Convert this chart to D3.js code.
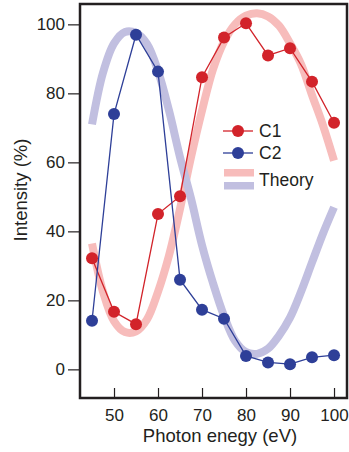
<!DOCTYPE html>
<html lang="en">
    <head>
        <meta charset="utf-8">
        <title>Intensity vs photon energy</title>
        <script type="text/javascript" src="https://cdn.jsdelivr.net/npm/d3@7/dist/d3.min.js"></script>
        <style>
            body { margin: 0; background: #fff; }
            text { font-family: "Liberation Sans", Arial, Helvetica, sans-serif; fill: #231f20; }
        </style>
    </head>
    <body>
    <svg width="349" height="452"></svg>
        <script type="text/javascript">
            // measured points
            var energies = [45, 50, 55, 60, 65, 70, 75, 80, 85, 90, 95, 100];
            var c1 = [32.2, 16.7, 13.1, 45.0, 50.2, 84.7, 96.2, 100.3, 91.0, 93.1, 83.4, 71.5];
            var c2 = [14.1, 74.0, 97.0, 86.3, 26.0, 17.3, 14.7, 3.9, 2.0, 1.5, 3.5, 4.1];

            // theory curves, every 2.5 eV
            var theoryEnergies = [45, 47.5, 50, 52.5, 55, 57.5, 60, 62.5, 65, 67.5, 70, 72.5,
                                  75, 77.5, 80, 82.5, 85, 87.5, 90, 92.5, 95, 97.5, 100];
            var theoryC1 = [36.5, 22.5, 14, 10.8, 11, 14.5, 22.5, 33, 46.5, 61.5, 75, 87,
                            95, 100, 102.5, 103.2, 102.3, 99.6, 94.5, 88.5, 79.5, 70.7, 60.5];
            var theoryC2 = [71, 86, 94.5, 97.8, 97.5, 94.3, 86.5, 75, 61.5, 49.5, 36, 25,
                            15.5, 8.3, 5, 4.5, 6, 9.8, 15, 22.5, 31, 39.4, 47];

            var xTicks = [50, 60, 70, 80, 90, 100];
            var yTicks = [0, 20, 40, 60, 80, 100];

            var red = "#d2232a", blue = "#2e3f98",
                redTheory = "#f7bcbb", blueTheory = "#c1bfe0";

            var svg = d3.select("svg"),
                pLeft = 80, pRight = 347, pTop = 4, pBottom = 398;

            var x = d3.scaleLinear().domain([42.27, 102.95]).range([pLeft, pRight]),
                y = d3.scaleLinear().domain([-8.3, 105.9]).range([pBottom, pTop]);

            var theory = theoryEnergies.map(function(e, i) {
                return {e: e, a: theoryC1[i], b: theoryC2[i]};
            });
            var meas = energies.map(function(e, i) {
                return {e: e, a: c1[i], b: c2[i]};
            });

            var band = function(key) {
                return d3.line().curve(d3.curveCatmullRom)
                    .x(function(d) { return x(d.e); })
                    .y(function(d) { return y(d[key]); });
            };
            var seg = function(key) {
                return d3.line()
                    .x(function(d) { return x(d.e); })
                    .y(function(d) { return y(d[key]); });
            };

            svg.append("path").datum(theory)
                .attr("d", band("a"))
                .attr("fill", "none").attr("stroke", redTheory).attr("stroke-width", 8);
            svg.append("path").datum(theory)
                .attr("d", band("b"))
                .attr("fill", "none").attr("stroke", blueTheory).attr("stroke-width", 8);

            [["a", red], ["b", blue]].forEach(function(s) {
                svg.append("path").datum(meas)
                    .attr("d", seg(s[0]))
                    .attr("fill", "none").attr("stroke", s[1]).attr("stroke-width", 1.3);
                svg.selectAll(".dot-" + s[0])
                    .data(meas)
                    .enter().append("circle")
                    .attr("class", "dot-" + s[0])
                    .attr("cx", function(d) { return x(d.e); })
                    .attr("cy", function(d) { return y(d[s[0]]); })
                    .attr("r", 6)
                    .attr("fill", s[1]);
            });

            // axes
            var gx = svg.append("g")
                .attr("transform", "translate(0," + pBottom + ")")
                .call(d3.axisBottom(x).tickValues(xTicks).tickSize(-10).tickPadding(11));
            var gy = svg.append("g")
                .attr("transform", "translate(" + pLeft + ",0)")
                .call(d3.axisLeft(y).tickValues(yTicks).tickSize(12).tickPadding(3));
            [gx, gy].forEach(function(g) {
                g.select(".domain").remove();
                g.selectAll(".tick line").attr("stroke", "#231f20").attr("stroke-width", 1.2);
                g.selectAll(".tick text").attr("font-size", "17px")
                    .attr("font-family", "Liberation Sans, Arial, sans-serif").attr("fill", "#231f20");
            });

            svg.append("rect")
                .attr("x", pLeft).attr("y", pTop)
                .attr("width", pRight - pLeft).attr("height", pBottom - pTop)
                .attr("fill", "none").attr("stroke", "#231f20").attr("stroke-width", 2.5);

            svg.append("text")
                .attr("x", 220).attr("y", 442)
                .attr("text-anchor", "middle")
                .attr("font-size", "18.5px")
                .text("Photon enegy (eV)");

            svg.append("text")
                .attr("transform", "translate(27," + 190 + ") rotate(-90)")
                .attr("text-anchor", "middle")
                .attr("font-size", "18.5px")
                .text("Intensity (%)");

            // legend
            var lg = svg.append("g");
            [["C1", red, 131], ["C2", blue, 153]].forEach(function(s) {
                lg.append("line")
                    .attr("x1", 223).attr("x2", 253).attr("y1", s[2]).attr("y2", s[2])
                    .attr("stroke", s[1]).attr("stroke-width", 1.3);
                lg.append("circle").attr("cx", 238).attr("cy", s[2]).attr("r", 6).attr("fill", s[1]);
                lg.append("text").attr("x", 259).attr("y", s[2]).attr("dy", "0.36em")
                    .attr("font-size", "17.5px").text(s[0]);
            });
            lg.append("rect").attr("x", 224).attr("y", 169).attr("width", 30).attr("height", 7.5)
                .attr("fill", redTheory);
            lg.append("rect").attr("x", 224).attr("y", 182).attr("width", 30).attr("height", 7.5)
                .attr("fill", blueTheory);
            lg.append("text").attr("x", 259).attr("y", 180).attr("dy", "0.36em")
                .attr("font-size", "17.5px").text("Theory");
        </script>
    </body>
</html>
